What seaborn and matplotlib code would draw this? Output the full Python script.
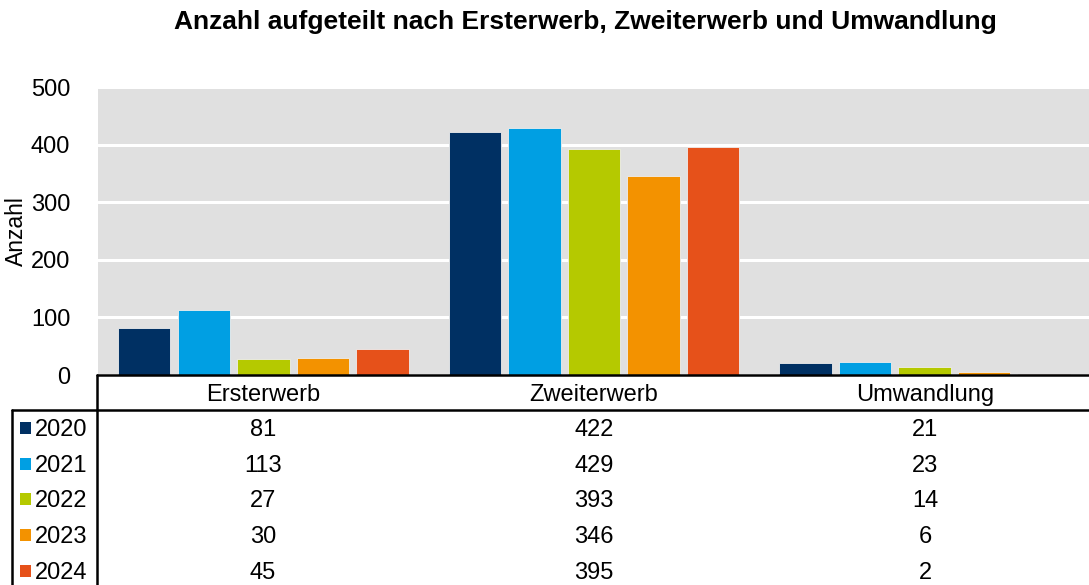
import matplotlib
matplotlib.use("Agg")
import matplotlib.pyplot as plt
from matplotlib.lines import Line2D
from matplotlib.patches import Rectangle
import seaborn as sns
import pandas as pd

categories = ["Ersterwerb", "Zweiterwerb", "Umwandlung"]
years = ["2020", "2021", "2022", "2023", "2024"]
values_2020 = [81, 422, 21]
values_2021 = [113, 429, 23]
values_2022 = [27, 393, 14]
values_2023 = [30, 346, 6]
values_2024 = [45, 395, 2]
series = [values_2020, values_2021, values_2022, values_2023, values_2024]
colors = ["#003063", "#009FE3", "#B5C900", "#F39200", "#E6511A"]
yticks = [0, 100, 200, 300, 400, 500]

rows = []
for y, vals in zip(years, series):
    for c, v in zip(categories, vals):
        rows.append({"Kategorie": c, "Jahr": y, "Anzahl": v})
df = pd.DataFrame(rows)

sns.set_theme(style="white")
plt.rcParams["font.family"] = ["Liberation Sans", "DejaVu Sans"]
plt.rcParams["text.color"] = "black"
plt.rcParams["axes.labelcolor"] = "black"
plt.rcParams["ytick.color"] = "black"

W, H = 1089, 585
fig = plt.figure(figsize=(W / 100, H / 100), dpi=100)
ax = fig.add_axes([98 / W, 1 - 375 / H, 992 / W, (375 - 87) / H])
ax.set_facecolor("#e0e0e0")

sns.barplot(data=df, x="Kategorie", y="Anzahl", hue="Jahr", order=categories,
            hue_order=years, palette=colors, saturation=1, width=0.9, gap=0.12,
            edgecolor="#eeeeee", linewidth=0.6, legend=False, ax=ax, zorder=3)

ax.set_xlim(-0.5, 2.5)
ax.set_ylim(0, 500)
ax.set_yticks(yticks)
ax.set_yticklabels([str(t) for t in yticks], fontsize=17, color="black")
ax.grid(axis="y", color="white", linewidth=2.2, zorder=0)
ax.set_axisbelow(True)
ax.tick_params(axis="y", length=0, pad=20)
ax.set_xticks([])
ax.set_xlabel("")
ax.set_ylabel("Anzahl", fontsize=16.5, color="black", labelpad=2)
for s in ax.spines.values():
    s.set_visible(False)

fig.text(585 / W, 1 - 22 / H, "Anzahl aufgeteilt nach Ersterwerb, Zweiterwerb und Umwandlung",
         ha="center", va="center", fontsize=19, fontweight="bold", color="black")

def fx(px):
    return px / W

def fy(py):
    return 1 - py / H

lw = 1.8
fig.add_artist(Line2D([fx(97), fx(1089)], [fy(375), fy(375)], color="black", lw=lw))
fig.add_artist(Line2D([fx(97), fx(97)], [fy(375), fy(585)], color="black", lw=lw))
fig.add_artist(Line2D([fx(12), fx(1089)], [fy(410), fy(410)], color="black", lw=lw))
fig.add_artist(Line2D([fx(12), fx(12)], [fy(410), fy(585)], color="black", lw=lw))

col_x = [263, 594, 925]
for cx, c in zip(col_x, categories):
    fig.text(fx(cx), fy(395), c, ha="center", va="center", fontsize=17, color="black")

row_y = [430, 466, 501, 537, 573]
for ry, y, vals, col in zip(row_y, years, series, colors):
    fig.add_artist(Rectangle((fx(20), fy(ry + 4)), 11 / W, 12 / H, facecolor=col,
                             edgecolor="none", transform=fig.transFigure))
    fig.text(fx(35), fy(ry), y, ha="left", va="center", fontsize=17, color="black")
    for cx, v in zip(col_x, vals):
        fig.text(fx(cx), fy(ry), str(v), ha="center", va="center", fontsize=17, color="black")

fig.savefig("out.png", dpi=100)
